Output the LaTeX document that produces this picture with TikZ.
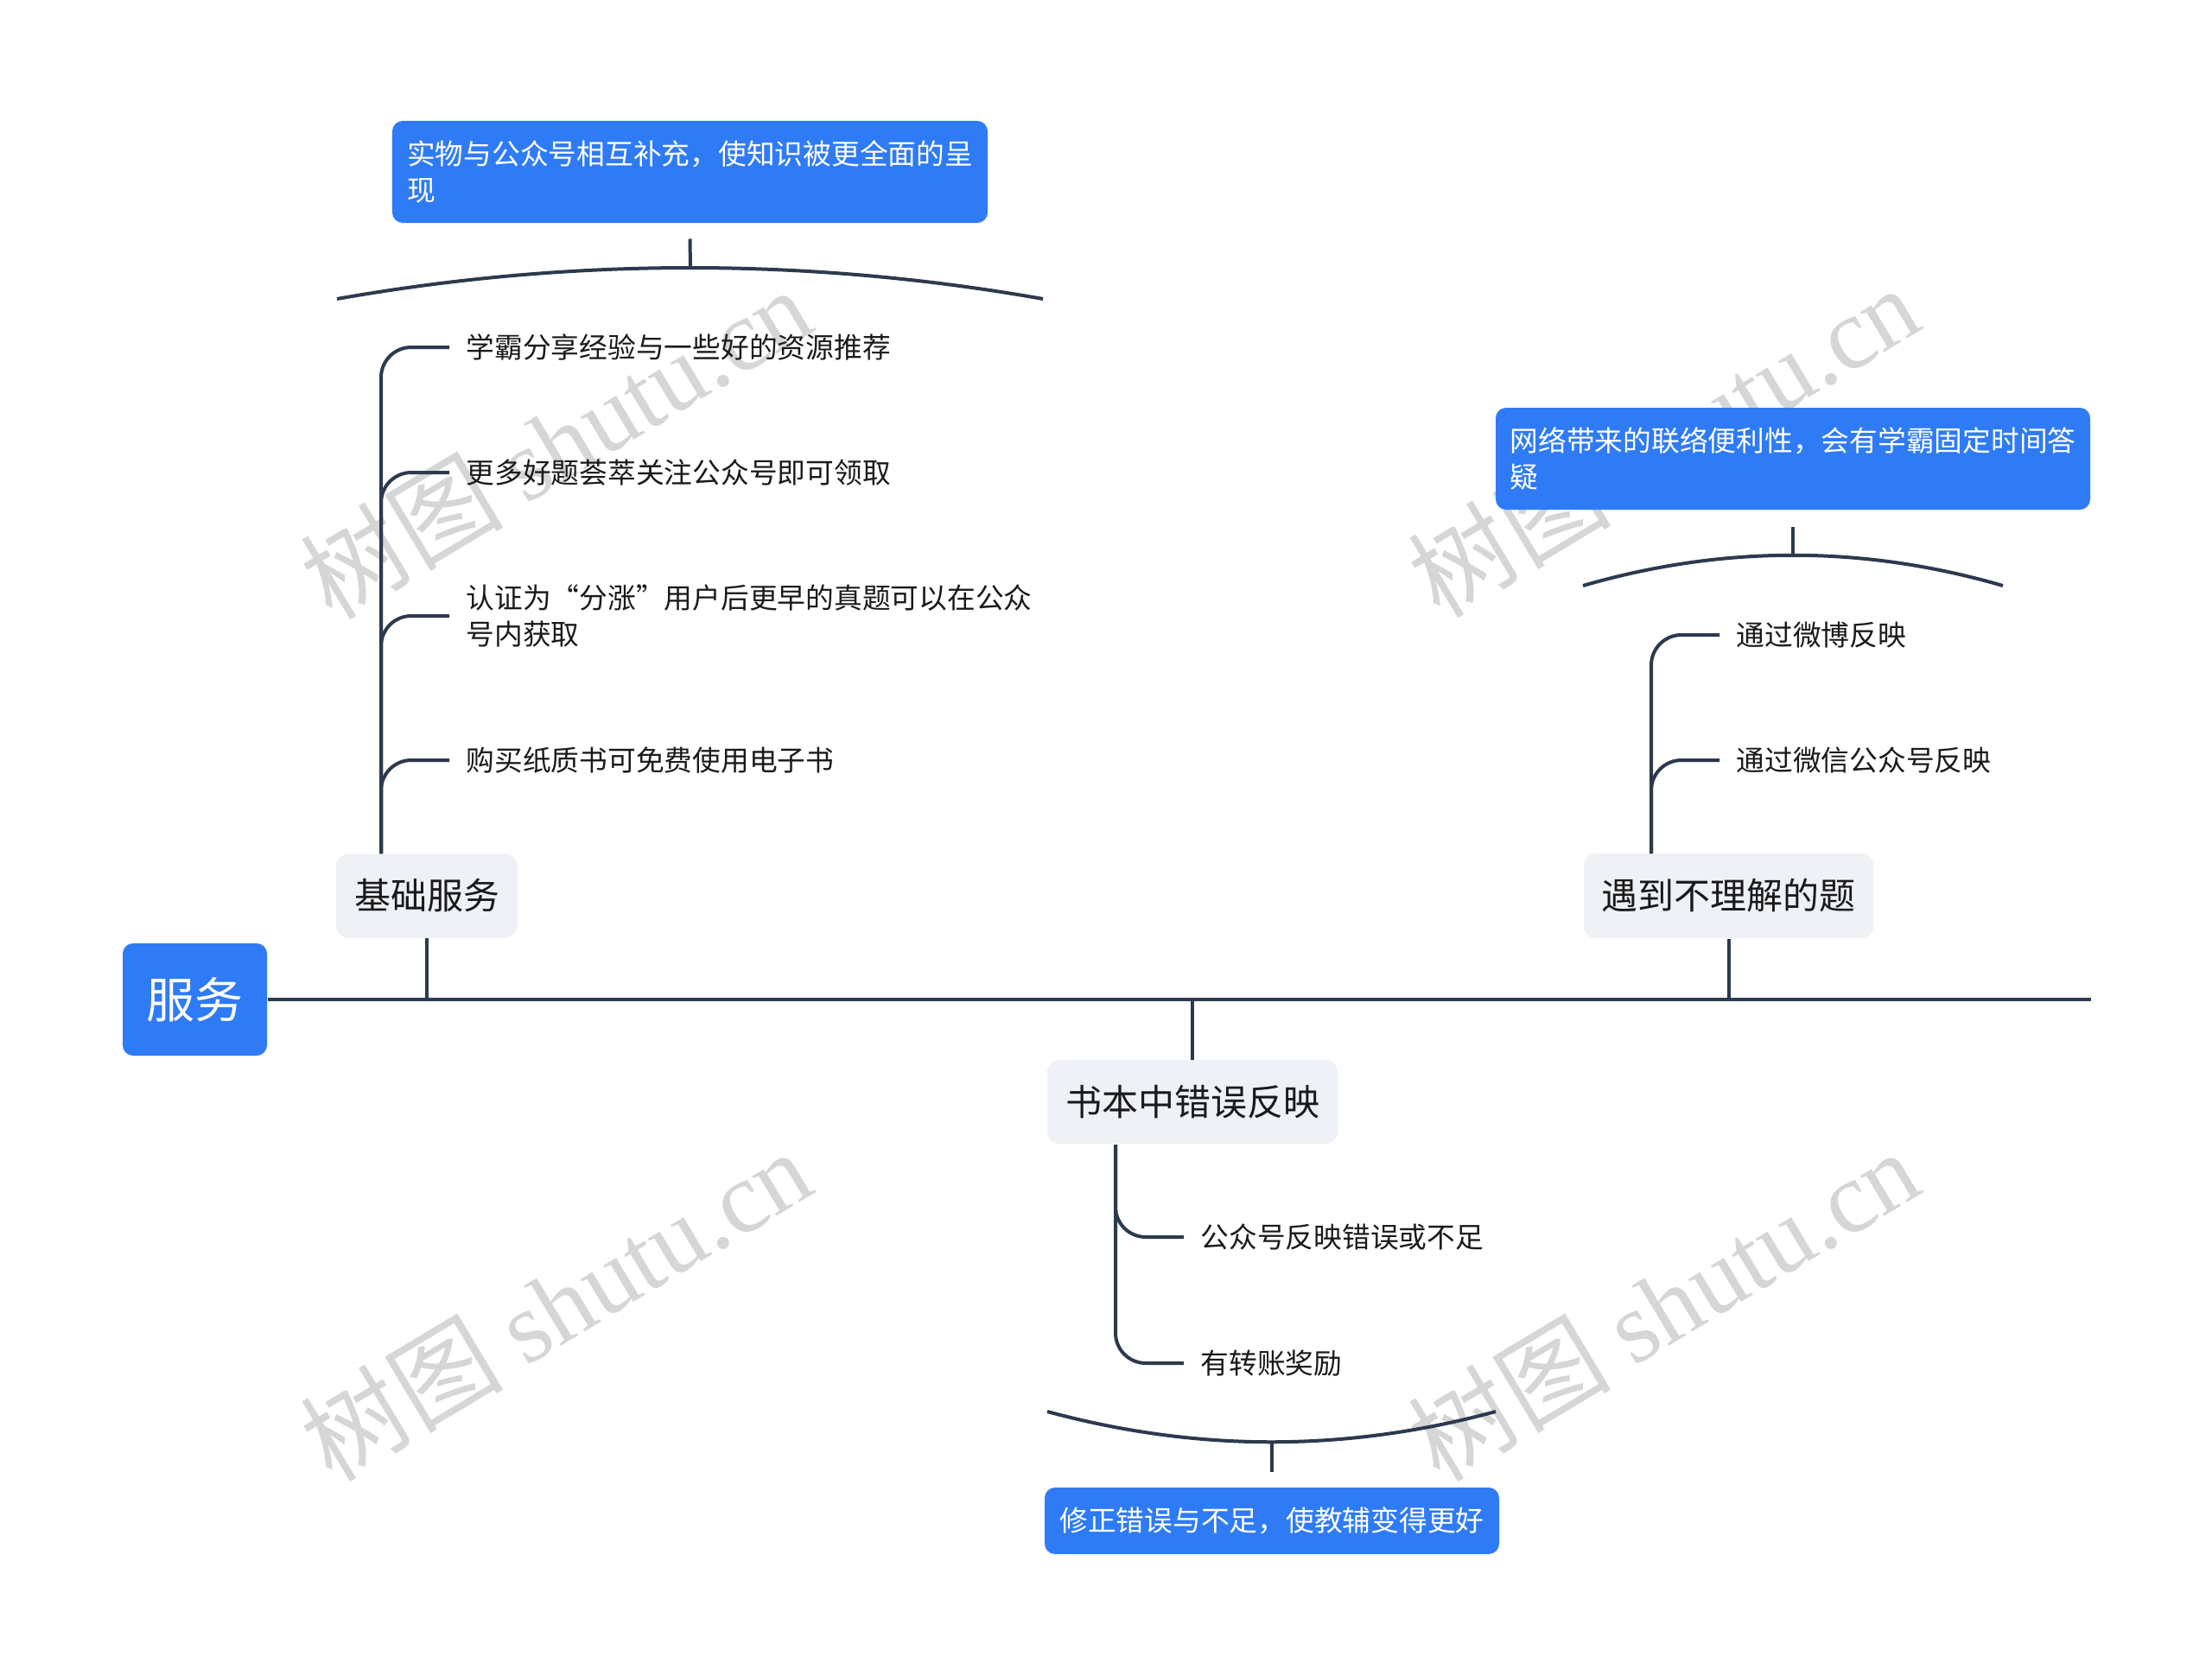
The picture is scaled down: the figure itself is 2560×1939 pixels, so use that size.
\documentclass[tikz,border=0pt]{standalone}
\usepackage{fontspec}
\setmainfont{Noto Sans CJK SC}
\newfontfamily\wmlatin{Liberation Serif}
\definecolor{bblue}{HTML}{2F7BF6}
\definecolor{gbox}{HTML}{EEF1F5}
\definecolor{ln}{HTML}{2D3A4D}
\definecolor{wm}{HTML}{D6D6D6}
\definecolor{txt}{HTML}{1A1A1A}
\newcommand{\myoq}{\makebox[1em][r]{“}}
\newcommand{\mycq}{\makebox[1em][l]{”}}
\begin{document}
\begin{tikzpicture}[x=0.4pt,y=-0.4pt,
  line/.style={draw=ln, line width=1.6pt},
  branch/.style={line, rounded corners=14pt},
  leaf/.style={anchor=west, inner xsep=7.6pt, inner ysep=0pt, font=\fontsize{13.1}{16.6}\selectfont, text=txt, align=left},
  gnode/.style={fill=gbox, rounded corners=5.6pt, font=\fontsize{16.8}{20}\selectfont, inner sep=0pt, text=txt},
  bnode/.style={fill=bblue, rounded corners=4.8pt, text=white, inner sep=0pt},
  note/.style={bnode, font=\fontsize{13.1}{16.8}\selectfont, align=left},
  wmark/.style={text=wm, font=\fontsize{47}{47}\selectfont, rotate=31, inner sep=0pt}
]
\useasboundingbox (0,0) rectangle (2560,1939);
\fill[white] (0,0) rectangle (2560,1939);

% watermarks
\node[wmark] (w1) at (643,512) {树图 {\wmlatin shutu.cn}};
\node[wmark] (w2) at (1925,510) {树图 {\wmlatin shutu.cn}};
\node[wmark] (w3) at (643,1510) {树图 {\wmlatin shutu.cn}};
\node[wmark] (w4) at (1925,1510) {树图 {\wmlatin shutu.cn}};

% main nodes
\node[bnode, minimum width=66.8pt, minimum height=52pt, font=\fontsize{22.4}{24}\selectfont] (root) at (225.5,1157) {服务};
\node[gnode, minimum width=84pt, minimum height=38.8pt] (jichu) at (494,1037) {基础服务};
\node[gnode, minimum width=134pt, minimum height=39.2pt] (yudao) at (2000.5,1037) {遇到不理解的题};
\node[gnode, minimum width=134.4pt, minimum height=38.8pt] (shuben) at (1380,1275.5) {书本中错误反映};

\node[note, minimum width=275.6pt, minimum height=47.2pt] (topL) at (798.5,199) {实物与公众号相互补充，使知识被更全面的呈\\现};
\node[note, minimum width=275.2pt, minimum height=47.2pt] (topR) at (2075,531) {网络带来的联络便利性，会有学霸固定时间答\\疑};
\node[bnode, minimum width=210.4pt, minimum height=30.8pt, font=\fontsize{13.1}{16.8}\selectfont] (bot) at (1472,1760.5) {修正错误与不足，使教辅变得更好};

% leaves
\node[leaf] (L1) at (520,402) {学霸分享经验与一些好的资源推荐};
\node[leaf] (L2) at (520,547) {更多好题荟萃关注公众号即可领取};
\node[leaf] (L3) at (520,713) {认证为\myoq 分涨\mycq 用户后更早的真题可以在公众\\号内获取};
\node[leaf] (L4) at (520,880) {购买纸质书可免费使用电子书};
\node[leaf] (R1) at (1990,735) {通过微博反映};
\node[leaf] (R2) at (1990,880) {通过微信公众号反映};
\node[leaf] (M1) at (1370,1432) {公众号反映错误或不足};
\node[leaf] (M2) at (1370,1578) {有转账奖励};

% coordinates
\coordinate (mainend) at (2420,1157);
\coordinate (jj) at (494,1157);
\coordinate (yj) at (2000.5,1157);
\coordinate (sj) at (1380,1157);
\coordinate (ls) at (441,988);
\coordinate (rs) at (1911,988);
\coordinate (ms) at (1291,1325);
\coordinate (apL) at (799,310);
\coordinate (apR) at (2075,643);
\coordinate (apB) at (1472,1669);

% main line and stems
\draw[line] (root.east) -- (mainend);
\draw[line] (jichu.south) -- (jj);
\draw[line] (yudao.south) -- (yj);
\draw[line] (shuben.north) -- (sj);

% branches
\foreach \n in {L1,L2,L3,L4} \draw[branch] (ls) |- (\n.west);
\foreach \n in {R1,R2} \draw[branch] (rs) |- (\n.west);
\foreach \n in {M1,M2} \draw[branch] (ms) |- (\n.west);

% braces
\draw[line] (390,346) .. controls (662,298) and (935,298) .. (1207,346);
\draw[line] (apL) -- ([yshift=-7.2pt]topL.south);
\draw[line] (1832,678) .. controls (1994,631) and (2156,631) .. (2318,678);
\draw[line] (apR) -- ([yshift=-7.6pt]topR.south);
\draw[line] (1212,1634) .. controls (1385,1681) and (1558,1681) .. (1731,1634);
\draw[line] (apB) -- ([yshift=7.2pt]bot.north);
\end{tikzpicture}
\end{document}
